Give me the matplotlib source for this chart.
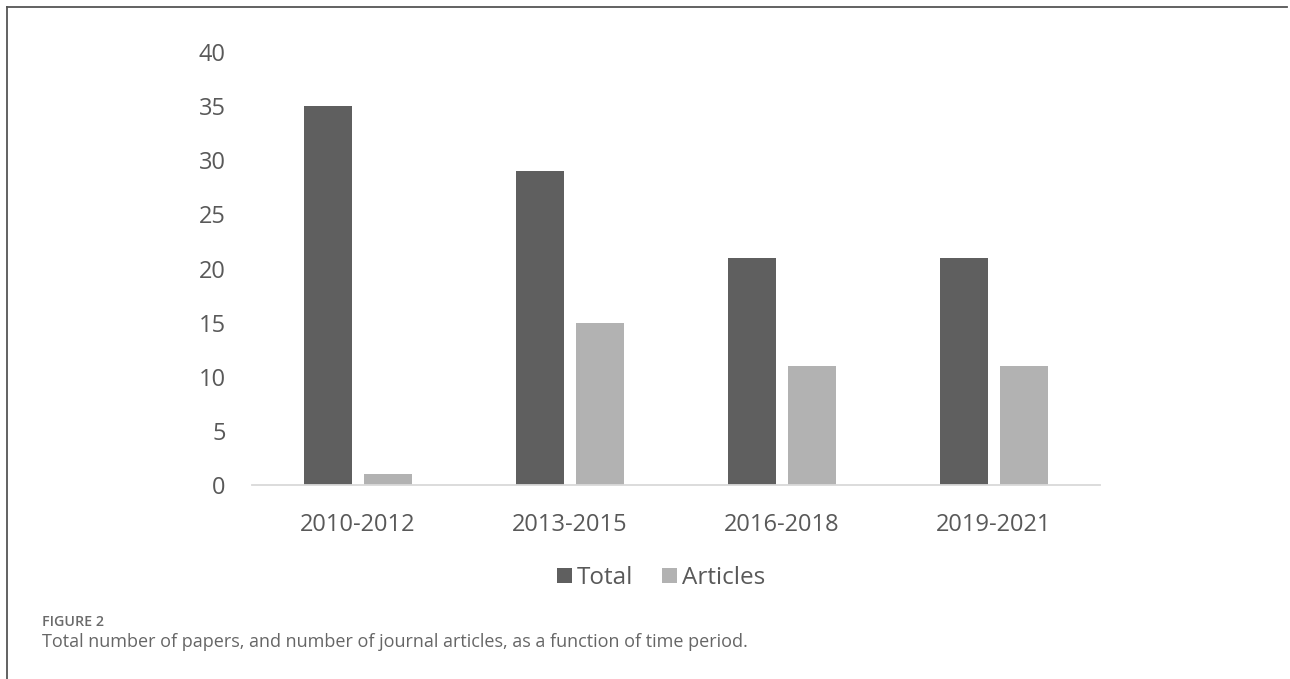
import numpy as np
import matplotlib.pyplot as plt
from matplotlib.lines import Line2D

periods = ['2010-2012', '2013-2015', '2016-2018', '2019-2021']
total = [35, 29, 21, 21]
articles = [1, 15, 11, 11]

plt.rcParams['font.family'] = ['Open Sans', 'DejaVu Sans']

fig = plt.figure(figsize=(12.9, 6.79), dpi=100)
ax = fig.add_axes([252 / 1290, 1 - 485 / 679, 848 / 1290, 433 / 679])

x = np.arange(len(periods))
w = 0.222
off = 0.1415
ax.bar(x - off, total, w, color='#5f5f5f', label='Total')
ax.bar(x + off, articles, w, color='#b2b2b2', label='Articles')

ax.set_xlim(-0.5, 3.5)
ax.set_ylim(0, 40)
ax.set_yticks(range(0, 41, 5))
ax.set_xticks(x)
ax.set_xticklabels(periods)
for s in ['top', 'right', 'left']:
    ax.spines[s].set_visible(False)
ax.spines['bottom'].set_color('#d9d9d9')
ax.spines['bottom'].set_linewidth(1.3)
ax.tick_params(axis='both', length=0, labelsize=17, colors='#595959')
ax.tick_params(axis='y', pad=19)
ax.tick_params(axis='x', pad=20)

fig.legend(loc='center', bbox_to_anchor=(661 / 1290, 1 - 578 / 679), ncol=2,
           frameon=False, fontsize=17.5, labelcolor='#595959',
           handlelength=0.62, handleheight=0.62, handletextpad=0.2, columnspacing=1.2)

# frame lines of the figure panel
fig.add_artist(Line2D([7 / 1290, 7 / 1290], [0, 1 - 7 / 679], color='#555555', lw=1.3))
fig.add_artist(Line2D([7 / 1290, 1287 / 1290], [1 - 7 / 679, 1 - 7 / 679], color='#555555', lw=1.3))

fig.text(42 / 1290, 1 - 626 / 679, 'FIGURE 2', fontsize=10.3, color='#6a6a6a',
         fontweight='semibold', va='baseline', ha='left')
fig.text(42 / 1290, 1 - 647 / 679,
         'Total number of papers, and number of journal articles, as a function of time period.',
         fontsize=13, color='#666666', va='baseline', ha='left')

fig.savefig('out.png', dpi=100)
